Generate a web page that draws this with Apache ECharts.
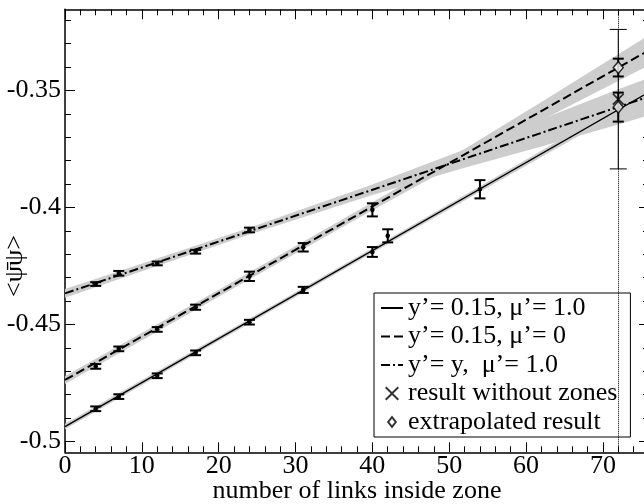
<!DOCTYPE html>
<html>
<head>
<meta charset="utf-8">
<script src="https://cdn.jsdelivr.net/npm/echarts@6/dist/echarts.min.js"></script>
<style>
html, body { margin: 0; padding: 0; background: #fff; }
#chart { width: 644px; height: 504px; }
</style>
</head>
<body>
<div id="chart"></div>
<script>
// measured points, y'=0.15, mu'=1.0 (solid)
const solidX = [4, 7, 12, 17, 24, 31, 40, 42, 54];
const solidY = [-0.4860, -0.4808, -0.4719, -0.4621, -0.4490, -0.4352, -0.4190, -0.4121, -0.3922];
const solidErr = [0.0010, 0.0010, 0.0010, 0.0010, 0.0010, 0.0013, 0.0021, 0.0028, 0.0039];
// y'=0.15, mu'=0 (dashed)
const dashX = [4, 7, 12, 17, 24, 31, 40];
const dashY = [-0.4679, -0.4604, -0.4521, -0.4426, -0.4294, -0.4170, -0.4010];
const dashErr = [0.0010, 0.0010, 0.0010, 0.0011, 0.0020, 0.0018, 0.0028];
// y'=y, mu'=1.0 (dash-dot)
const ddX = [4, 7, 12, 17, 24];
const ddY = [-0.4327, -0.4281, -0.4239, -0.4189, -0.4096];
const ddErr = [0.0008, 0.0010, 0.0008, 0.0008, 0.0010];

// fit lines
const fitX = [0, 76];
const solidFit = [-0.4936, -0.3507];
const dashFit = [-0.4737, -0.3328];
const ddFit = [-0.4367, -0.3526];

// fit uncertainty bands
const solidBandX = [0, 20, 40, 54, 72, 76];
const solidBandLo = [-0.4948, -0.4570, -0.4194, -0.3933, -0.3598, -0.3524];
const solidBandHi = [-0.4924, -0.4550, -0.4174, -0.3909, -0.3566, -0.3490];
const dashBandX = [0, 20, 40, 52, 62, 72, 76];
const dashBandLo = [-0.4754, -0.4381, -0.4012, -0.3796, -0.3627, -0.3459, -0.3392];
const dashBandHi = [-0.4720, -0.4351, -0.3978, -0.3750, -0.3549, -0.3345, -0.3264];
const ddBandX = [0, 12, 24, 40, 52, 62, 72, 76];
const ddBandLo = [-0.4386, -0.4250, -0.4115, -0.3946, -0.3830, -0.3739, -0.3645, -0.3606];
const ddBandHi = [-0.4348, -0.4218, -0.4087, -0.3902, -0.3752, -0.3623, -0.3495, -0.3446];

// results at 72 links
const noZoneX = [72];
const noZoneY = [-0.3537];
const noZoneErr = [0.0298];
const extrapX = [72, 72];
const extrapY = [-0.3402, -0.3571];
const extrapErr = [0.0038, 0.0062];

// ticks
const xMajor = [0, 10, 20, 30, 40, 50, 60, 70];
const xMinor = [2, 4, 6, 8, 12, 14, 16, 18, 22, 24, 26, 28, 32, 34, 36, 38, 42, 44, 46, 48, 52, 54, 56, 58, 62, 64, 66, 68, 72, 74];
const yMajor = [-0.5, -0.45, -0.4, -0.35];
const yMinor = [-0.49, -0.48, -0.47, -0.46, -0.44, -0.43, -0.42, -0.41, -0.39, -0.38, -0.37, -0.36, -0.34, -0.33, -0.32];

const FONT = 'Liberation Serif';
const X_MIN = 0, X_MAX = 76;
const Y_MIN = -0.5046, Y_MAX = -0.3153;

function xAx(pos, ticks, len, line, labels) {
  return {
    type: 'value', position: pos, min: X_MIN, max: X_MAX,
    axisLine: { show: line, onZero: false, lineStyle: { color: '#000', width: 1.5 } },
    axisTick: { show: true, inside: true, length: len, customValues: ticks, lineStyle: { color: '#000', width: 1 } },
    axisLabel: labels ? { show: true, customValues: xMajor, margin: 1, color: '#000', fontSize: 26, fontFamily: FONT } : { show: false },
    splitLine: { show: false }
  };
}
function yAx(pos, ticks, len, line, labels) {
  return {
    type: 'value', position: pos, min: Y_MIN, max: Y_MAX,
    axisLine: { show: line, onZero: false, lineStyle: { color: '#000', width: 1.5 } },
    axisTick: { show: true, inside: true, length: len, customValues: ticks, lineStyle: { color: '#000', width: 1 } },
    axisLabel: labels ? { show: true, customValues: yMajor, margin: 4, color: '#000', fontSize: 26, fontFamily: FONT } : { show: false },
    splitLine: { show: false }
  };
}

function band(xs, lo, hi) {
  return {
    type: 'custom', silent: true, z: 1,
    data: xs.map((x, i) => [x, lo[i], hi[i]]),
    encode: { x: 0, y: [1, 2] },
    renderItem: function (params, api) {
      if (params.dataIndex !== 0) return;
      const pts = [];
      for (let i = 0; i < xs.length; i++) pts.push(api.coord([xs[i], hi[i]]));
      for (let i = xs.length - 1; i >= 0; i--) pts.push(api.coord([xs[i], lo[i]]));
      return { type: 'polygon', shape: { points: pts }, style: { fill: '#cdcdcd' } };
    }
  };
}

function errBars(xs, ys, es, capW, lw, dot) {
  return {
    type: 'custom', silent: true, z: 5,
    data: xs.map((x, i) => [x, ys[i], es[i]]),
    encode: { x: 0, y: 1 },
    renderItem: function (params, api) {
      const x = api.value(0), y = api.value(1), e = api.value(2);
      const t = api.coord([x, y + e]);
      const b = api.coord([x, y - e]);
      const c = api.coord([x, y]);
      const st = { stroke: '#000', lineWidth: lw };
      const ch = [
        { type: 'line', shape: { x1: t[0], y1: t[1], x2: b[0], y2: b[1] }, style: st },
        { type: 'line', shape: { x1: t[0] - capW / 2, y1: t[1], x2: t[0] + capW / 2, y2: t[1] }, style: st },
        { type: 'line', shape: { x1: b[0] - capW / 2, y1: b[1], x2: b[0] + capW / 2, y2: b[1] }, style: st }
      ];
      if (dot) ch.push({ type: 'circle', shape: { cx: c[0], cy: c[1], r: 2.3 }, style: { fill: '#000' } });
      return { type: 'group', children: ch };
    }
  };
}

function fit(name, ys, type, width) {
  return {
    name: name, type: 'line', z: 3, symbol: 'none', silent: true,
    data: fitX.map((x, i) => [x, ys[i]]),
    lineStyle: { color: '#000', width: width, type: type },
    // no markers; keeps the legend icon a plain line
    itemStyle: { color: '#000', opacity: 0 }
  };
}

const names = ['y\u2019= 0.15, \u03bc\u2019= 1.0', 'y\u2019= 0.15, \u03bc\u2019= 0', 'y\u2019= y,  \u03bc\u2019= 1.0', 'result without zones', 'extrapolated result'];
const crossPath = 'path://M0,2 L2,0 L10,8 L18,0 L20,2 L12,10 L20,18 L18,20 L10,12 L2,20 L0,18 L8,10 Z';

const option = {
  animation: false,
  backgroundColor: '#fff',
  grid: { left: 65, top: 9.3, width: 584, height: 443, containLabel: false, outerBoundsMode: 'none' },
  xAxis: [
    Object.assign(xAx('bottom', xMajor, 10, true, true), {
      name: 'number of links inside zone', nameLocation: 'middle', nameGap: 26, nameMoveOverlap: false,
      nameTextStyle: { color: '#000', fontSize: 26, fontFamily: FONT }
    }),
    xAx('bottom', xMinor, 6, false, false),
    xAx('top', xMajor, 10, true, false),
    xAx('top', xMinor, 6, false, false)
  ],
  yAxis: [
    yAx('left', yMajor, 10, true, true),
    yAx('left', yMinor, 6, false, false),
    yAx('right', yMajor, 10, true, false),
    yAx('right', yMinor, 6, false, false)
  ],
  legend: {
    left: 374, top: 293, orient: 'vertical', selectedMode: false,
    padding: [2, 13, 2, 6], itemGap: 2.5, itemWidth: 22, itemHeight: 14,
    backgroundColor: '#fff', borderColor: '#000', borderWidth: 1, borderRadius: 0,
    textStyle: { color: '#000', fontSize: 26, fontFamily: FONT },
    data: [
      { name: names[0] }, { name: names[1] }, { name: names[2] },
      { name: names[3] },
      { name: names[4], icon: 'path://M0,0 M20,20 M10,3 L15.5,10 L10,17 L4.5,10 Z' }
    ]
  },
  graphic: [{
    type: 'text', x: 15, y: 266, rotation: Math.PI / 2,
    style: { text: '<\u03c8\u0304\u03c8>', fontSize: 26, fontFamily: FONT, fill: '#000',
      align: 'center', verticalAlign: 'middle', textAlign: 'center', textVerticalAlign: 'middle' }
  }],
  series: [
    band(ddBandX, ddBandLo, ddBandHi),
    band(dashBandX, dashBandLo, dashBandHi),
    band(solidBandX, solidBandLo, solidBandHi),
    fit(names[0], solidFit, 'solid', 1.5),
    fit(names[1], dashFit, [9, 4], 2),
    fit(names[2], ddFit, [9, 3, 2, 3], 2),
    errBars(solidX, solidY, solidErr, 11, 2, true),
    errBars(dashX, dashY, dashErr, 11, 2, true),
    errBars(ddX, ddY, ddErr, 11, 2, true),
    errBars(noZoneX, noZoneY, noZoneErr, 17, 1, false),
    errBars(extrapX, extrapY, extrapErr, 11, 2, false),
    {
      name: names[3], type: 'scatter', z: 6, silent: true,
      data: noZoneX.map((x, i) => [x, noZoneY[i]]),
      symbol: crossPath, symbolSize: 12,
      itemStyle: { color: '#000' },
      markLine: {
        silent: true, symbol: 'none', label: { show: false },
        lineStyle: { type: 'dotted', color: '#000', width: 1 },
        data: [{ xAxis: 72 }]
      }
    },
    {
      name: names[4], type: 'scatter', z: 7, silent: true,
      data: extrapX.map((x, i) => [x, extrapY[i]]),
      symbol: 'diamond', symbolSize: [10, 12],
      itemStyle: { color: '#fff', borderColor: '#000', borderWidth: 1.5 }
    }
  ]
};

const chart = echarts.init(document.getElementById('chart'));
chart.setOption(option);
</script>
</body>
</html>
